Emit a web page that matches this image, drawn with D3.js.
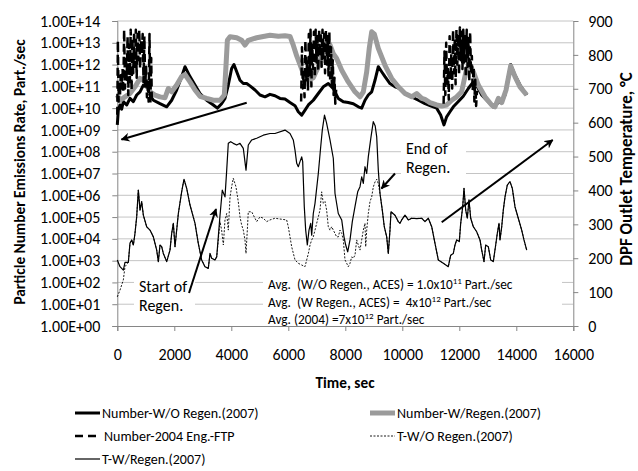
<!DOCTYPE html>
<meta charset="utf-8">
<style>
body { margin: 0; background: #fff; }
svg text { font-family: Carlito, Lato, "Open Sans", sans-serif; fill: #000; }
.grid line { stroke: #c4c4c4; stroke-width: 1; }
.tick-lab { font-size: 16px; }
.ttl { font-size: 15.3px; font-weight: bold; }
.ttl-r { font-size: 17px; font-weight: bold; }
.note { font-size: 16px; }
.avg { font-size: 13.3px; }
.leg { font-size: 14px; }
</style>
<svg width="638" height="471"></svg>
<script src="https://cdn.jsdelivr.net/npm/d3@7"></script>
<script>
// ---- data ----
// particle number, W/O regeneration (black thick)
var noRegenTime = [0,35,95,153,212,329,445,563,680,797,914,1030,1147,1265,1498,1733,1908,2083,2258,2375,2551,2727,2901,3135,3370,3510,3660,3779,3895,4012,4093,4190,4305,4421,4540,4655,4833,5007,5182,5357,5533,5708,5884,6060,6235,6351,6470,6587,6704,6877,7053,7228,7404,7579,7754,7930,8105,8281,8456,8575,8691,8807,8926,9042,9158,9276,9393,9568,9744,9919,10095,10330,10565,10796,10970,11206,11346,11463,11556,11673,11790,11966,12140,12316,12491,12632,12786,12961,13193,13370,13488,13604,13720,13802,13954,14130,14365];
var noRegenNum = [1.7e9,8e9,1.4e10,9e9,2e10,1.4e10,2.8e10,2e10,4e10,5.6e10,1.15e11,9.5e10,4e10,2.3e10,1.6e10,1.15e10,2.3e10,6.8e10,2.8e11,8e11,2.8e11,1.15e11,4.7e10,2.3e10,1.4e10,1e10,1.6e10,2.8e10,1.15e11,6.6e11,1e12,4.7e11,1.9e11,1.35e11,1.35e11,1.05e11,6.8e10,4e10,3.3e10,4.3e10,3.7e10,2.8e10,2.6e10,1.8e10,1.3e10,6.8e9,4.8e9,8.1e9,1.4e10,2.3e10,4.7e10,9.5e10,1.35e11,7.9e10,2.8e10,1.95e10,1.8e10,1.6e10,1.15e10,1e10,2.3e10,4e10,5.6e10,1.9e11,8e11,4.7e11,2.8e11,1.35e11,9.5e10,8e10,4.7e10,3.3e10,2.3e10,1.6e10,1.3e10,1e10,4.8e9,1.7e9,4e9,6.8e9,1.15e10,2e10,3.5e10,8e10,1.6e11,9.5e10,4e10,2.3e10,1.15e10,1.8e10,1.95e10,4e10,2.8e11,1e12,3.3e11,1.15e11,4e10];

// particle number, W/ regeneration (gray thick)
var regenTime = [0,95,270,445,620,797,914,1030,1147,1323,1498,1674,1790,1908,2083,2258,2375,2551,2727,2901,3135,3370,3604,3755,3815,3862,3956,4190,4363,4480,4596,4891,5123,5358,5650,5884,6060,6175,6295,6411,6528,6704,6877,7053,7228,7347,7463,7579,7696,7874,8105,8340,8516,8632,8751,8840,8926,9020,9158,9393,9627,9860,10095,10330,10505,10681,10796,10970,11206,11380,11556,11732,11909,12082,12258,12374,12491,12667,12902,13135,13252,13370,13488,13640,13802,13954,14130,14365];
var regenNum = [4e10,2.3e10,3.3e10,4.7e10,9.5e10,2.3e11,1.9e11,1.35e11,5.6e10,4e10,3.3e10,3e10,8e10,5.6e10,1.15e11,2.8e11,3.5e11,1.6e11,6.8e10,3.5e10,2.8e10,2.3e10,2.3e10,4e10,9.3e11,1.3e13,1.9e13,1.7e13,1.3e13,7.9e12,1.3e13,1.7e13,1.95e13,2.2e13,2e13,2.1e13,1.95e13,7.8e12,2.5e12,1e12,3.9e11,1.9e11,2.5e11,7.9e11,5e12,1.6e13,7.9e12,3.2e12,1.9e12,5.5e11,1.6e11,5.6e10,3.3e10,5.6e10,4.7e11,5.5e12,3.2e13,2.5e13,5.5e12,9.3e11,2.3e11,9.5e10,4.7e10,3.3e10,4.7e10,2.8e10,2.5e10,1.8e10,1.4e10,1.26e10,1.4e10,2.3e10,3.3e10,5.6e10,6.6e11,1e12,4.7e11,1.15e11,3.3e10,1.4e10,1.15e10,2.8e10,1.8e10,6.8e10,8.7e11,2.8e11,9.5e10,4e10];

// particle number, 2004 engine FTP (dashed), null = no data
var ftpTime = [0,20,45,70,95,120,150,185,210,240,270,300,330,360,385,410,440,470,500,530,560,590,620,650,680,710,740,770,800,830,860,890,920,950,980,1010,1040,1070,1100,1130,1160,1190,1210,
  3000,
  6450,6480,6510,6540,6570,6600,6630,6660,6690,6720,6750,6780,6810,6840,6870,6900,6930,6960,6990,7020,7050,7080,7110,7140,7170,7200,7230,7260,7290,7320,7350,7380,7410,7440,7470,7500,7530,7560,7590,7620,7650,7680,
  9500,
  11450,11480,11510,11540,11570,11600,11630,11660,11690,11720,11750,11780,11810,11840,11870,11900,11930,11960,11990,12020,12050,12080,12110,12140,12170,12200,12230,12260,12290,12320,12350,12380,12410,12440,12470,12500,12530,12560,12590,12620];
var ftpNum = [5e9,1.3e13,2e10,1.6e11,4e10,3.2e11,8e10,6.3e11,5e10,4e13,8e10,2.5e12,2e11,2e13,4e10,8e12,1.6e11,4e13,6.3e10,1.6e13,4e11,3.2e13,8e11,4e13,2.5e11,2.5e13,1.6e12,4e13,6.3e11,1.3e13,3.2e12,2.5e13,1.6e11,2e13,1e11,8e11,3.2e10,2e11,2e10,2.5e13,1.6e10,2e12,2.5e10,
  null,
  2e10,6.3e12,8e10,4e11,3.2e10,1.3e13,1.6e11,1.6e12,6.3e10,2.5e13,3.2e11,4e13,1e11,8e12,6.3e11,3.2e13,2.5e11,4e13,1.26e12,2e13,5e11,4e13,2.5e12,3.2e13,8e11,4e13,2e12,2.5e13,4e11,4e13,1e12,2e13,3.2e11,3.2e13,1.6e11,6.3e12,1e11,1.6e12,4e10,2.5e11,1.6e10,8e10,
  null,
  1.6e10,4e12,4e10,1e13,1e11,6.3e11,2.5e10,2e13,2e11,3.2e12,8e10,4e13,4e11,1.6e13,1.26e11,4e13,1e12,2.5e13,3.2e11,5e13,1.6e12,3.2e13,6.3e11,4e13,1.26e12,2e13,2.5e11,4e13,8e11,1.6e13,1.6e11,3.2e13,4e11,2.5e12,6.3e10,8e11,2e10,2e11,1.26e10,6.3e10];

// DPF outlet temperature, W/ regeneration (thin solid)
var tRegenTime = [0,95,212,270,387,445,505,563,620,680,738,797,855,914,1030,1147,1265,1382,1440,1498,1557,1615,1733,1849,1908,1966,2025,2142,2258,2340,2435,2551,2727,2842,2960,3077,3193,3253,3312,3428,3488,3544,3604,3684,3779,3839,3895,3979,4070,4190,4305,4421,4516,4596,4716,4891,5123,5358,5533,5884,6060,6175,6235,6295,6351,6411,6470,6505,6561,6610,6667,6726,6786,6821,6877,6937,7053,7137,7193,7270,7340,7463,7579,7639,7754,7874,7954,8014,8084,8165,8246,8340,8435,8516,8575,8632,8691,8751,8807,8902,8982,9050,9102,9158,9218,9298,9368,9453,9509,9568,9604,9744,9860,9919,9979,10095,10211,10330,10505,10681,10796,10912,11032,11147,11263,11439,11614,11698,11790,11849,11909,12000,12049,12119,12165,12225,12281,12340,12400,12491,12610,12726,12786,12867,12926,13018,13102,13193,13277,13333,13393,13428,13488,13544,13604,13684,13779,13860,13954,14070,14189,14270,14365];
var tRegenC = [195,175,165,188,188,244,254,239,273,322,401,342,367,327,293,283,263,224,190,239,234,214,190,224,273,303,234,332,396,433,406,357,303,244,195,175,170,214,200,195,204,263,327,401,381,460,539,544,539,534,539,524,460,534,549,554,563,568,568,578,568,549,519,480,470,485,499,485,352,283,239,283,303,268,332,362,450,529,578,622,600,549,495,391,332,313,263,239,219,254,308,352,396,411,440,421,470,450,499,558,603,590,558,460,391,342,293,263,214,283,337,327,308,303,313,327,313,318,317,318,308,318,293,244,195,185,175,209,214,239,254,249,303,352,406,342,318,372,318,293,278,254,224,190,239,234,195,190,239,273,303,254,293,342,381,416,426,406,352,318,283,254,224];

// DPF outlet temperature, W/O regeneration (thin dotted)
var tNoRegenTime = [0,95,212,270,387,445,505,563,620,680,738,797,855,914,1030,1147,1265,1382,1440,1498,1557,1615,1733,1849,1908,1966,2025,2142,2258,2340,2435,2551,2727,2842,2960,3077,3193,3253,3312,3428,3488,3544,3604,3660,3721,3779,3839,3895,3956,4012,4070,4163,4245,4305,4363,4421,4480,4516,4562,4596,4716,4775,4891,5007,5123,5240,5358,5533,5767,5942,6000,6118,6235,6351,6470,6587,6645,6704,6763,6821,6877,6937,6996,7053,7112,7170,7228,7288,7345,7404,7463,7523,7579,7639,7696,7754,7814,7874,7930,7989,8049,8105,8165,8225,8281,8340,8400,8456,8516,8575,8632,8691,8716,8751,8807,8867,8926,8982,9042,9102,9158,9218,9298,9368,9453,9509,9568,9604,9744,9860,9919,9979,10095,10211,10330,10505,10681,10796,10912,11032,11147,11263,11439,11614,11698,11790,11849,11909,12000,12049,12119,12165,12225,12281,12340,12400,12491,12610,12726,12786,12867,12926,13018,13102,13193,13277,13333,13393,13428,13488,13544,13604,13684,13779,13860,13954,14070,14189,14270,14365];
var tNoRegenC = [86,106,136,175,188,244,254,239,273,322,401,342,367,327,293,283,263,224,190,239,234,214,190,224,273,303,234,332,396,433,406,357,303,244,195,175,170,214,200,195,204,254,308,283,239,313,332,283,381,411,436,411,367,322,298,283,254,214,283,337,337,327,308,322,318,308,313,318,315,313,293,234,195,185,180,175,195,214,239,254,263,283,303,322,342,396,362,367,342,293,283,293,283,273,263,263,283,273,254,195,185,175,185,204,200,209,254,239,224,254,283,303,234,283,332,367,381,410,425,433,420,391,342,293,263,214,283,337,327,308,303,313,327,313,318,317,318,308,318,293,244,195,185,175,209,214,239,254,249,303,352,406,342,318,372,318,293,278,254,224,190,239,234,195,190,239,273,303,254,293,342,381,416,426,406,352,318,283,254,224];

var xTicks = [0,2000,4000,6000,8000,10000,12000,14000,16000];
var yLeftTicks = [1,1e1,1e2,1e3,1e4,1e5,1e6,1e7,1e8,1e9,1e10,1e11,1e12,1e13,1e14];
var yRightTicks = [0,100,200,300,400,500,600,700,800,900];

var seriesNames = ["Number-W/O Regen.(2007)","Number-W/Regen.(2007)","Number-2004 Eng.-FTP","T-W/O Regen.(2007)","T-W/Regen.(2007)"];

// ---- chart ----
var svg = d3.select("svg");
var plotL = 117.3, plotR = 573.3, plotT = 21, plotB = 326;

var x = d3.scaleLinear().domain([0,16000]).range([plotL,plotR]);
var yL = d3.scaleLog().domain([1,1e14]).range([plotB,plotT]);
var yR = d3.scaleLinear().domain([0,900]).range([plotB,plotT]);

function fmtE(v) {
  var e = Math.round(Math.log10(v));
  return "1.00E+" + (e < 10 ? "0" + e : e);
}

// gridlines (left axis decades)
svg.append("g").attr("class","grid")
  .selectAll("line").data(yLeftTicks.slice(1)).enter().append("line")
  .attr("x1",plotL).attr("x2",plotR)
  .attr("y1",function(d){return yL(d);}).attr("y2",function(d){return yL(d);});

// white boxes behind the notes
svg.append("rect").attr("x",134).attr("y",274).attr("width",61).attr("height",42).attr("fill","#fff");
svg.append("rect").attr("x",401).attr("y",138).attr("width",65).attr("height",42).attr("fill","#fff");
svg.append("rect").attr("x",263).attr("y",272).attr("width",299).attr("height",53).attr("fill","#fff");

// axes
var gx = svg.append("g").attr("transform","translate(0,"+plotB+")")
  .call(d3.axisBottom(x).tickValues(xTicks).tickSize(5).tickPadding(18).tickFormat(d3.format("d")));
var gl = svg.append("g").attr("transform","translate("+plotL+",0)")
  .call(d3.axisLeft(yL).tickValues(yLeftTicks).tickSize(5).tickPadding(12).tickFormat(fmtE));
var gr = svg.append("g").attr("transform","translate("+plotR+",0)")
  .call(d3.axisRight(yR).tickValues(yRightTicks).tickSize(5).tickPadding(10));
[gx,gl,gr].forEach(function(g){
  g.attr("font-family",null).attr("font-size",null);
  g.select(".domain").attr("stroke","#868686");
  g.selectAll(".tick line").attr("stroke","#868686");
  g.selectAll(".tick text").attr("class","tick-lab");
});

// axis titles
svg.append("text").attr("class","ttl").attr("text-anchor","middle")
  .attr("transform","translate(25,172) rotate(-90)").text("Particle Number Emissions Rate, Part./sec");
svg.append("text").attr("class","ttl-r").attr("text-anchor","middle")
  .attr("transform","translate(632,169) rotate(-90)").text("DPF Outlet Temperature, °C");
svg.append("text").attr("class","ttl").attr("text-anchor","middle")
  .attr("x",345).attr("y",388).text("Time, sec");

// series
function zip(ts, vs) { return ts.map(function(t,i){ return {t:t, v:vs[i]}; }); }
var lineL = d3.line().defined(function(d){return d.v != null;})
  .x(function(d){return x(d.t);}).y(function(d){return yL(d.v);});
var lineR = d3.line().x(function(d){return x(d.t);}).y(function(d){return yR(d.v);});

var styles = [
  {stroke:"#000", width:3, dash:null},
  {stroke:"#9b9b9b", width:5, dash:null},
  {stroke:"#000", width:2.5, dash:"8,5"},
  {stroke:"#000", width:0.9, dash:"2,1.5"},
  {stroke:"#000", width:1.2, dash:null}
];

function draw(data, gen, s) {
  svg.append("path").datum(data).attr("d",gen)
    .attr("fill","none").attr("stroke",s.stroke).attr("stroke-width",s.width)
    .attr("stroke-linejoin","round").attr("stroke-dasharray",s.dash);
}
draw(zip(tNoRegenTime,tNoRegenC), lineR, styles[3]);
draw(zip(tRegenTime,tRegenC), lineR, styles[4]);
draw(zip(noRegenTime,noRegenNum), lineL, styles[0]);
draw(zip(regenTime,regenNum), lineL, styles[1]);
draw(zip(ftpTime,ftpNum), lineL, styles[2]);

// notes and arrows
var defs = svg.append("defs");
defs.append("marker").attr("id","ah").attr("viewBox","0 0 10 10").attr("refX",9).attr("refY",5)
  .attr("markerWidth",9).attr("markerHeight",9).attr("markerUnits","userSpaceOnUse").attr("orient","auto")
  .append("path").attr("d","M0,0 L10,5 L0,10 L3,5 Z").attr("fill","#000");
function arrow(x1,y1,x2,y2) {
  svg.append("line").attr("x1",x1).attr("y1",y1).attr("x2",x2).attr("y2",y2)
    .attr("stroke","#000").attr("stroke-width",2).attr("marker-end","url(#ah)");
}
arrow(246.7,102.7,121.5,139.5);
arrow(441.7,222.3,552.7,140);
arrow(189,293,216,209);
arrow(395,173.5,381.5,188.5);

svg.append("text").attr("class","note").attr("x",139).attr("y",292).text("Start of");
svg.append("text").attr("class","note").attr("x",139).attr("y",311).text("Regen.");
svg.append("text").attr("class","note").attr("x",406).attr("y",154).text("End of");
svg.append("text").attr("class","note").attr("x",406).attr("y",173).text("Regen.");

var avgLines = [
  ["Avg.  (W/O Regen., ACES) = 1.0x10","11"," Part./sec"],
  ["Avg.  (W Regen., ACES) =  4x10","12"," Part./sec"],
  ["Avg. (2004) =7x10","12"," Part./sec"]
];
avgLines.forEach(function(a,i){
  var t = svg.append("text").attr("class","avg").attr("x",268).attr("y",289 + i*17.5).attr("xml:space","preserve");
  t.append("tspan").text(a[0]);
  t.append("tspan").attr("dy",-5).attr("font-size","9px").text(a[1]);
  t.append("tspan").attr("dy",5).text(a[2]);
});

// legend
var legPos = [[75,413],[370,413],[75,436],[370,436],[75,459]];
seriesNames.forEach(function(n,i){
  var p = legPos[i], s = styles[i];
  svg.append("line").attr("x1",p[0]).attr("x2",p[0]+(i==2?22:25)).attr("y1",p[1]).attr("y2",p[1])
    .attr("stroke",s.stroke).attr("stroke-width",s.width).attr("stroke-dasharray",s.dash);
  svg.append("text").attr("class","leg").attr("x",p[0]+(i==2?29:27)).attr("y",p[1]+5).text(n);
});
</script>
